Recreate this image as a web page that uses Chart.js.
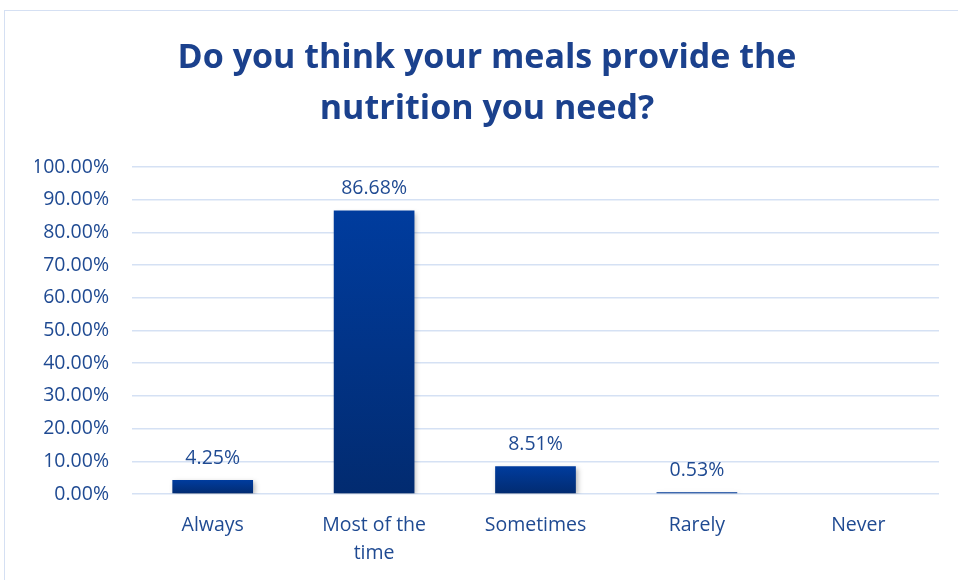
<!DOCTYPE html>
<html>
<head>
<meta charset="utf-8">
<script src="https://cdn.jsdelivr.net/npm/chart.js@4/dist/chart.umd.min.js"></script>
<style>
  html, body { margin: 0; padding: 0; background: #fff; }
  #frame {
    position: absolute; left: 4px; top: 10px;
    width: 1000px; height: 620px;
    border: 1.5px solid #d5e0f3;
  }
  #wrap { position: absolute; left: 0; top: 0; width: 958px; height: 580px; }
</style>
</head>
<body>
<div id="frame"></div>
<div id="wrap"><canvas id="nutritionChart"></canvas></div>
<script>
// Respuestas y porcentajes
const categorias = ['Always', ['Most of the', 'time'], 'Sometimes', 'Rarely', 'Never'];
const porcentajes = [4.25, 86.68, 8.51, 0.53, 0];
const ticksY = [0, 10, 20, 30, 40, 50, 60, 70, 80, 90, 100];
const titulo = ['Do you think your meals provide the', 'nutrition you need?'];

const azulTexto = '#1f4a92';
const fuente = '"Open Sans", Lato, sans-serif';

// Degradado vertical de cada barra (más claro arriba)
function colorBarra(context) {
    const chart = context.chart;
    const area = chart.chartArea;
    if (!area || !chart.scales.y) return '#003a9a';
    const y = chart.scales.y;
    const v = context.raw || 0;
    const top = y.getPixelForValue(v);
    const bottom = y.getPixelForValue(0);
    if (bottom - top < 1) return '#0a3a8e';
    const g = chart.ctx.createLinearGradient(0, top, 0, bottom);
    g.addColorStop(0, '#003c9e');
    g.addColorStop(1, '#022b70');
    return g;
}

// Sombra suave bajo las barras
const sombraBarras = {
    id: 'sombraBarras',
    beforeDatasetsDraw(chart) {
        const ctx = chart.ctx;
        ctx.save();
        ctx.shadowColor = 'rgba(0, 0, 0, 0.28)';
        ctx.shadowBlur = 5;
        ctx.shadowOffsetX = 2;
        ctx.shadowOffsetY = 2;
    },
    afterDatasetsDraw(chart) {
        chart.ctx.restore();
    }
};

// Etiquetas de valor sobre cada barra
const etiquetasValor = {
    id: 'etiquetasValor',
    afterDraw(chart) {
        const ctx = chart.ctx;
        const meta = chart.getDatasetMeta(0);
        ctx.save();
        ctx.font = '19.5px ' + fuente;
        ctx.fillStyle = azulTexto;
        ctx.textAlign = 'center';
        ctx.textBaseline = 'middle';
        meta.data.forEach((bar, i) => {
            const v = porcentajes[i];
            if (!v) return;
            ctx.fillText(v.toFixed(2) + '%', bar.x, bar.y - 22);
        });
        ctx.restore();
    }
};

new Chart(document.getElementById('nutritionChart'), {
    type: 'bar',
    data: {
        labels: categorias,
        datasets: [{
            data: porcentajes,
            backgroundColor: colorBarra,
            borderWidth: 0,
            barPercentage: 0.5,
            categoryPercentage: 1.0
        }]
    },
    options: {
        responsive: true,
        maintainAspectRatio: false,
        animation: false,
        layout: { padding: { left: 35, right: 19, top: 0, bottom: 0 } },
        plugins: {
            legend: { display: false },
            tooltip: { enabled: false },
            title: {
                display: true,
                text: titulo,
                color: '#1b418d',
                font: { family: fuente, size: 34, weight: 'bold', lineHeight: 1.5 },
                padding: { top: 33, bottom: 32 }
            }
        },
        scales: {
            x: {
                grid: { display: false, drawTicks: false },
                border: { display: false },
                ticks: {
                    color: azulTexto,
                    font: { family: fuente, size: 19.5, lineHeight: 1.45 },
                    padding: 17,
                    maxRotation: 0,
                    autoSkip: false
                },
                afterFit(scale) { scale.height = 86; }
            },
            y: {
                min: 0,
                max: 100,
                afterBuildTicks(scale) {
                    scale.ticks = ticksY.map(v => ({ value: v }));
                },
                grid: { color: '#d5e1f4', lineWidth: 1.5, drawTicks: false },
                border: { display: false },
                ticks: {
                    color: azulTexto,
                    font: { family: fuente, size: 19.5 },
                    padding: 23,
                    callback: (value) => value.toFixed(2) + '%'
                },
                afterFit(scale) { scale.width = 97; }
            }
        }
    },
    plugins: [sombraBarras, etiquetasValor]
});
</script>
</body>
</html>
